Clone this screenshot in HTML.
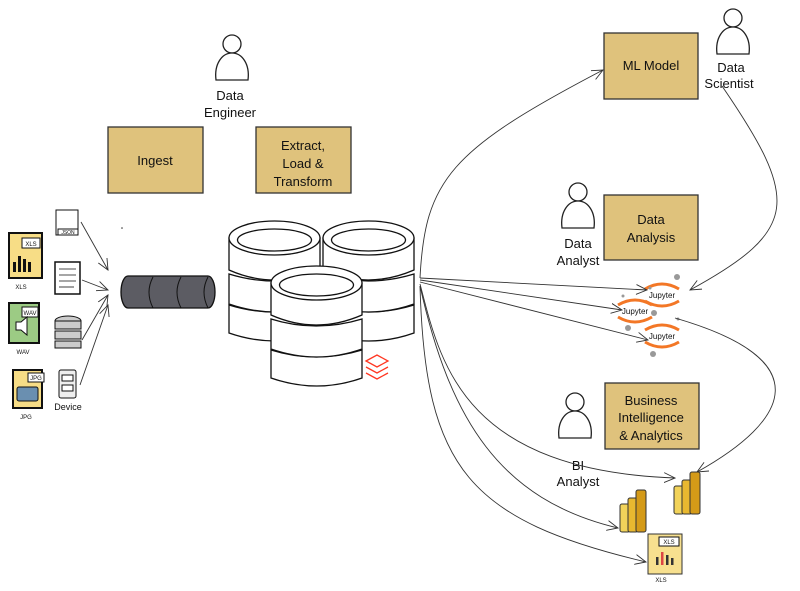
<!DOCTYPE html>
<html><head><meta charset="utf-8"><style>
html,body{margin:0;padding:0;background:#fff;width:800px;height:591px;overflow:hidden}
svg text{font-family:"Liberation Sans",sans-serif;fill:#111}
</style></head><body>
<svg width="800" height="591" viewBox="0 0 800 591" xmlns="http://www.w3.org/2000/svg">
<defs>
<marker id="a" viewBox="0 0 12 12" refX="11" refY="6" markerWidth="12" markerHeight="12" orient="auto" markerUnits="userSpaceOnUse"><path d="M0,1 L11,6 L0,11" fill="none" stroke="#333" stroke-width="0.9"/></marker>
<g id="person"><circle cx="0" cy="-20" r="9" fill="#fff" stroke="#222" stroke-width="1.3"/><path d="M-16,16 C-18,0 -10,-11 0,-11 C10,-11 18,0 16,16 Z" fill="#fff" stroke="#222" stroke-width="1.3"/></g>
<g id="pbi"><rect x="0" y="10" width="10" height="28" rx="2" fill="#f2d35a" stroke="#333"/><rect x="8" y="4" width="10" height="34" rx="2" fill="#e8b830" stroke="#333"/><rect x="16" y="-4" width="10" height="42" rx="2" fill="#d49a18" stroke="#333"/></g>
<g id="jup"><path d="M-17,-6 Q0,-16 17,-6" fill="none" stroke="#f37726" stroke-width="3"/><path d="M-17,6 Q0,16 17,6" fill="none" stroke="#f37726" stroke-width="3"/><text x="0" y="3" font-size="8" text-anchor="middle" fill="#777">Jupyter</text></g>
<g id="stack" fill="#fff" stroke="#111" stroke-width="1.3">
<path d="M0,305 q45,14 91,0 v28 q-45,16 -91,0 z"/>
<path d="M0,274 q45,14 91,0 v30 q-45,16 -91,0 z"/>
<path d="M0,238 v32 q45,20 91,0 v-32 z"/>
<ellipse cx="45.5" cy="238" rx="45.5" ry="17"/>
<ellipse cx="45.5" cy="240" rx="37" ry="11"/>
</g>
</defs>

<!-- boxes -->
<g stroke="#333" stroke-width="1.3" fill="#dfc27c">
<rect x="108" y="127" width="95" height="66"/>
<rect x="256" y="127" width="95" height="66"/>
<rect x="604" y="33" width="94" height="66"/>
<rect x="604" y="195" width="94" height="65"/>
<rect x="605" y="383" width="94" height="66"/>
</g>
<g font-size="13" text-anchor="middle">
<text x="155" y="165">Ingest</text>
<text x="303" y="150">Extract,</text><text x="303" y="168">Load &amp;</text><text x="303" y="186">Transform</text>
<text x="651" y="70">ML Model</text>
<text x="651" y="224">Data</text><text x="651" y="242">Analysis</text>
<text x="651" y="405">Business</text><text x="651" y="422">Intelligence</text><text x="651" y="440">&amp; Analytics</text>
</g>

<!-- persons -->
<use href="#person" x="232" y="64"/>
<text x="230" y="100" font-size="13" text-anchor="middle">Data</text>
<text x="230" y="117" font-size="13" text-anchor="middle">Engineer</text>
<use href="#person" x="733" y="38"/>
<text x="731" y="72" font-size="13" text-anchor="middle">Data</text>
<text x="729" y="88" font-size="13" text-anchor="middle">Scientist</text>
<use href="#person" x="578" y="212"/>
<text x="578" y="248" font-size="13" text-anchor="middle">Data</text>
<text x="578" y="265" font-size="13" text-anchor="middle">Analyst</text>
<use href="#person" x="575" y="422"/>
<text x="578" y="470" font-size="13" text-anchor="middle">BI</text>
<text x="578" y="486" font-size="13" text-anchor="middle">Analyst</text>

<!-- source icons -->
<rect x="9" y="233" width="33" height="45" fill="#f7dd86" stroke="#111" stroke-width="2"/>
<rect x="22" y="238" width="18" height="10" fill="#fff" stroke="#111"/><text x="31" y="246" font-size="6" text-anchor="middle">XLS</text>
<g fill="#111"><rect x="13" y="262" width="3" height="10"/><rect x="18" y="256" width="3" height="16"/><rect x="23" y="259" width="3" height="13"/><rect x="28" y="262" width="3" height="10"/></g>
<text x="21" y="289" font-size="6" text-anchor="middle">XLS</text>
<rect x="9" y="303" width="30" height="40" fill="#9ccb84" stroke="#111" stroke-width="2"/>
<rect x="22" y="307" width="16" height="10" fill="#fff" stroke="#111"/><text x="30" y="315" font-size="6" text-anchor="middle">WAV</text>
<path d="M16,322 h5 l6,-5 v18 l-6,-5 h-5z" fill="#fff" stroke="#111"/>
<text x="23" y="354" font-size="6" text-anchor="middle">WAV</text>
<rect x="13" y="370" width="29" height="38" fill="#f7dd86" stroke="#111" stroke-width="2"/>
<rect x="28" y="373" width="16" height="9" fill="#fff" stroke="#111"/><text x="36" y="380" font-size="6" text-anchor="middle">JPG</text>
<rect x="17" y="387" width="21" height="14" rx="2" fill="#6a8fb0" stroke="#111"/>
<text x="26" y="419" font-size="6" text-anchor="middle">JPG</text>
<rect x="56" y="210" width="22" height="25" fill="#fff" stroke="#111"/><rect x="58" y="229" width="20" height="6" fill="#fff" stroke="#111"/><text x="68" y="234" font-size="5" text-anchor="middle">JSON</text>
<rect x="55" y="262" width="25" height="32" fill="#fff" stroke="#111" stroke-width="1.5"/>
<g stroke="#111" stroke-width="0.8"><line x1="59" y1="269" x2="76" y2="269"/><line x1="59" y1="275" x2="76" y2="275"/><line x1="59" y1="281" x2="76" y2="281"/><line x1="59" y1="287" x2="74" y2="287"/></g>
<g fill="#ccc" stroke="#111"><ellipse cx="68" cy="321" rx="13" ry="5"/><rect x="55" y="321" width="26" height="8"/><rect x="55" y="331" width="26" height="8"/><rect x="55" y="341" width="26" height="7"/></g>
<rect x="59" y="370" width="17" height="28" rx="2" fill="#eee" stroke="#111"/><rect x="62" y="375" width="11" height="6" fill="#fff" stroke="#111"/><rect x="62" y="385" width="11" height="6" fill="#fff" stroke="#111"/>
<text x="68" y="410" font-size="9" text-anchor="middle">Device</text>

<!-- arrows to pipe -->
<g stroke="#333" stroke-width="0.9" fill="none" marker-end="url(#a)">
<path d="M81,222 L108,270"/><path d="M82,280 L108,290"/><path d="M82,340 L108,295"/><path d="M80,385 L108,305"/>
</g>
<circle cx="122" cy="228" r="0.8" fill="#333"/>

<!-- pipe -->
<path d="M128,276 H208 A7,16 0 0 1 208,308 H128 A7,16 0 0 1 128,276Z" fill="#5c5c63" stroke="#111" stroke-width="1.3"/>
<path d="M153,277 q-8,15 0,31 M181,277 q-8,15 0,31 M208,277 q-8,15 0,31" stroke="#111" fill="none"/>

<!-- databases -->
<use href="#stack" x="229" y="0"/>
<use href="#stack" x="323" y="0"/>
<use href="#stack" x="271" y="45" transform="translate(0,0)"/>
<g fill="none" stroke="#ff3621" stroke-width="1.3"><path d="M366,361 l11,-6 l11,6 l-11,6z"/><path d="M366,367 l11,6 l11,-6"/><path d="M366,373 l11,6 l11,-6"/></g>

<!-- jupyter & pbi -->
<use href="#jup" x="662" y="295"/>
<use href="#jup" x="635" y="311"/>
<use href="#jup" x="662" y="336"/>
<g fill="#999"><circle cx="677" cy="277" r="3"/><circle cx="628" cy="328" r="3"/><circle cx="653" cy="354" r="3"/><circle cx="654" cy="313" r="3"/><circle cx="623" cy="296" r="1.5"/><circle cx="678" cy="319" r="1.5"/><circle cx="650" cy="288" r="1.5"/></g>
<use href="#pbi" x="674" y="476"/>
<use href="#pbi" x="620" y="494"/>
<rect x="648" y="534" width="34" height="40" fill="#f7e08f" stroke="#333"/><rect x="659" y="537" width="20" height="9" fill="#fff" stroke="#111"/><text x="669" y="544" font-size="6" text-anchor="middle">XLS</text>
<g fill="#333"><rect x="656" y="557" width="2.5" height="8"/><rect x="661" y="552" width="2.5" height="13" fill="#d44"/><rect x="666" y="555" width="2.5" height="10"/><rect x="671" y="558" width="2.5" height="7"/></g>
<text x="661" y="582" font-size="6" text-anchor="middle">XLS</text>

<!-- connectors -->
<g stroke="#333" stroke-width="0.9" fill="none" marker-end="url(#a)">
<path d="M420,278 C425,180 450,150 603,70"/>
<path d="M420,278 L647,290"/>
<path d="M420,280 L622,310"/>
<path d="M420,282 L648,340"/>
<path d="M420,284 C440,360 460,470 675,478"/>
<path d="M420,286 C450,420 500,500 618,528"/>
<path d="M420,286 C425,470 470,520 646,562"/>
<path d="M722,86 C800,200 800,230 690,290"/>
<path d="M675,318 C820,360 790,420 697,472"/>
</g>
</svg>
</body></html>
